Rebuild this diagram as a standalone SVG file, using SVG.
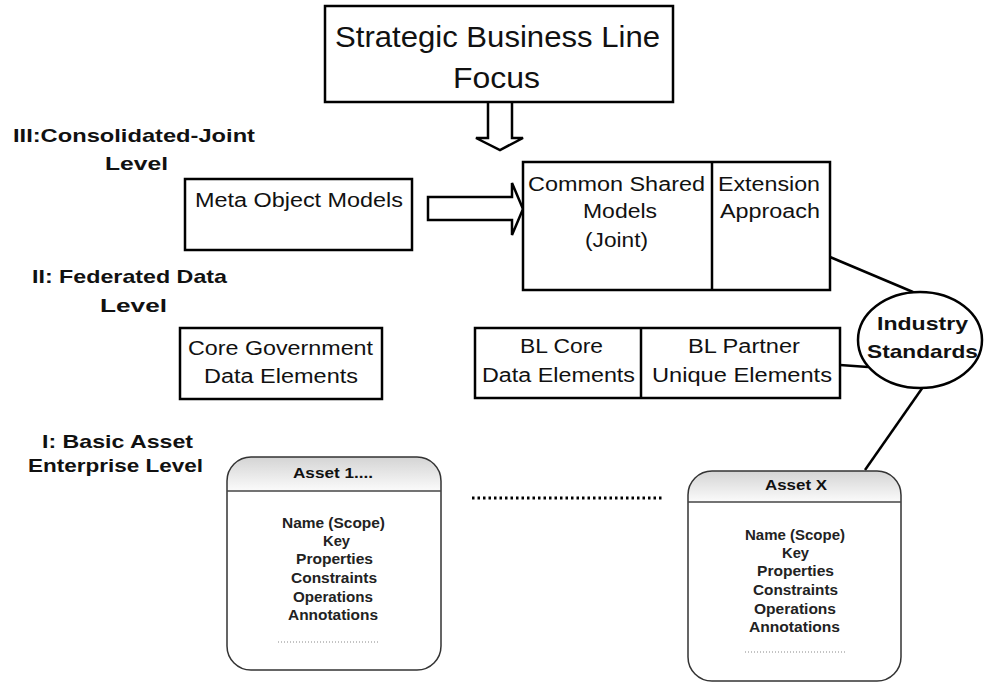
<svg xmlns="http://www.w3.org/2000/svg" width="985" height="683" viewBox="0 0 985 683">
<defs>
<linearGradient id="hdr" x1="0" y1="0" x2="0" y2="1">
<stop offset="0" stop-color="#d4d4d4"/>
<stop offset="1" stop-color="#fbfbfb"/>
</linearGradient>
<clipPath id="c1"><rect x="227" y="457" width="214" height="213" rx="24"/></clipPath>
<clipPath id="c2"><rect x="688" y="471" width="213" height="210" rx="24"/></clipPath>
</defs>
<style>
.box{fill:#fff;stroke:#000;stroke-width:2.5}
.t{font-family:"Liberation Sans",Arial,sans-serif;fill:#111}
.n{font-size:20px}
.b{font-weight:bold;font-size:19px}
.s{font-size:14px;font-weight:bold;fill:#222}
.h{font-size:15px;font-weight:bold}
.ln{stroke:#000;stroke-width:2.5;fill:none}
</style>
<rect width="985" height="683" fill="#fff"/>
<g id="labels">
<text class="t b" x="13" y="142" textLength="242" lengthAdjust="spacingAndGlyphs">III:Consolidated-Joint</text>
<text class="t b" x="105" y="170" textLength="63" lengthAdjust="spacingAndGlyphs">Level</text>
<text class="t b" x="32" y="283" textLength="195" lengthAdjust="spacingAndGlyphs">II: Federated Data</text>
<text class="t b" x="100" y="312" textLength="67" lengthAdjust="spacingAndGlyphs">Level</text>
<text class="t b" x="42" y="448" textLength="151" lengthAdjust="spacingAndGlyphs">I: Basic Asset</text>
<text class="t b" x="28" y="472" textLength="175" lengthAdjust="spacingAndGlyphs">Enterprise Level</text>
</g>
<g id="strategic">
<rect class="box" x="325" y="6" width="348" height="96"/>
<text class="t" font-size="29" x="335" y="47" textLength="325" lengthAdjust="spacingAndGlyphs">Strategic Business Line</text>
<text class="t" font-size="29" x="453" y="88" textLength="87" lengthAdjust="spacingAndGlyphs">Focus</text>
</g>
<g id="connectors">
<path class="ln" d="M488,102 V138 H476 L500,150 L523,138 H512 V102" fill="#fff"/>
<path class="ln" d="M428,197 H512 V183 L523,209 L512,235 V220 H428 Z" fill="#fff"/>
<line class="ln" x1="830" y1="257" x2="913" y2="292"/>
<line class="ln" x1="840" y1="365" x2="868" y2="367"/>
<line class="ln" x1="923" y1="387" x2="865" y2="470" stroke-width="2"/>
<line x1="472" y1="498" x2="662" y2="498" stroke="#000" stroke-width="3" stroke-dasharray="2.5,3"/>
</g>
<g id="meta">
<rect class="box" x="185" y="179" width="227" height="71"/>
<text class="t n" x="195" y="207" textLength="208" lengthAdjust="spacingAndGlyphs">Meta Object Models</text>
</g>
<g id="common">
<rect class="box" x="523" y="162" width="307" height="128"/>
<line class="ln" x1="712" y1="162" x2="712" y2="290"/>
<text class="t n" x="528" y="191" textLength="177" lengthAdjust="spacingAndGlyphs">Common Shared</text>
<text class="t n" x="583" y="218" textLength="74" lengthAdjust="spacingAndGlyphs">Models</text>
<text class="t n" x="585" y="247" textLength="63" lengthAdjust="spacingAndGlyphs">(Joint)</text>
<text class="t n" x="718" y="191" textLength="102" lengthAdjust="spacingAndGlyphs">Extension</text>
<text class="t n" x="720" y="218" textLength="100" lengthAdjust="spacingAndGlyphs">Approach</text>
</g>
<g id="coregov">
<rect class="box" x="180" y="328" width="202" height="71"/>
<text class="t n" x="188" y="355" textLength="185" lengthAdjust="spacingAndGlyphs">Core Government</text>
<text class="t n" x="204" y="383" textLength="154" lengthAdjust="spacingAndGlyphs">Data Elements</text>
</g>
<g id="bl">
<rect class="box" x="475" y="328" width="365" height="70"/>
<line class="ln" x1="641" y1="328" x2="641" y2="398"/>
<text class="t n" x="520" y="353" textLength="83" lengthAdjust="spacingAndGlyphs">BL Core</text>
<text class="t n" x="482" y="382" textLength="153" lengthAdjust="spacingAndGlyphs">Data Elements</text>
<text class="t n" x="688" y="353" textLength="112" lengthAdjust="spacingAndGlyphs">BL Partner</text>
<text class="t n" x="652" y="382" textLength="180" lengthAdjust="spacingAndGlyphs">Unique Elements</text>
</g>
<g id="industry">
<ellipse class="box" cx="920" cy="340" rx="62" ry="48"/>
<text class="t b" x="877" y="330" textLength="91" lengthAdjust="spacingAndGlyphs">Industry</text>
<text class="t b" x="867" y="358" textLength="111" lengthAdjust="spacingAndGlyphs">Standards</text>
</g>
<g id="asset1">
<rect x="227" y="457" width="214" height="213" rx="24" fill="#fff"/>
<rect x="227" y="457" width="214" height="34" fill="url(#hdr)" clip-path="url(#c1)"/>
<rect x="227" y="457" width="214" height="213" rx="24" fill="none" stroke="#333" stroke-width="1.5"/>
<line x1="227" y1="491" x2="441" y2="491" stroke="#444" stroke-width="1.5"/>
<text class="t h" x="293" y="478" textLength="80" lengthAdjust="spacingAndGlyphs">Asset 1....</text>
<text class="t s" x="282" y="528" textLength="103" lengthAdjust="spacingAndGlyphs">Name (Scope)</text>
<text class="t s" x="323" y="546" textLength="27" lengthAdjust="spacingAndGlyphs">Key</text>
<text class="t s" x="296" y="564" textLength="77" lengthAdjust="spacingAndGlyphs">Properties</text>
<text class="t s" x="291" y="583" textLength="86" lengthAdjust="spacingAndGlyphs">Constraints</text>
<text class="t s" x="293" y="602" textLength="80" lengthAdjust="spacingAndGlyphs">Operations</text>
<text class="t s" x="288" y="620" textLength="90" lengthAdjust="spacingAndGlyphs">Annotations</text>
<line x1="278" y1="642" x2="378" y2="642" stroke="#888" stroke-width="1" stroke-dasharray="1,2"/>
</g>
<g id="assetx">
<rect x="688" y="471" width="213" height="210" rx="24" fill="#fff"/>
<rect x="688" y="471" width="213" height="31" fill="url(#hdr)" clip-path="url(#c2)"/>
<rect x="688" y="471" width="213" height="210" rx="24" fill="none" stroke="#333" stroke-width="1.5"/>
<line x1="688" y1="502" x2="901" y2="502" stroke="#444" stroke-width="1.5"/>
<text class="t h" x="765" y="490" textLength="62" lengthAdjust="spacingAndGlyphs">Asset X</text>
<text class="t s" x="745" y="540" textLength="100" lengthAdjust="spacingAndGlyphs">Name (Scope)</text>
<text class="t s" x="782" y="558" textLength="27" lengthAdjust="spacingAndGlyphs">Key</text>
<text class="t s" x="757" y="576" textLength="77" lengthAdjust="spacingAndGlyphs">Properties</text>
<text class="t s" x="753" y="595" textLength="85" lengthAdjust="spacingAndGlyphs">Constraints</text>
<text class="t s" x="754" y="614" textLength="82" lengthAdjust="spacingAndGlyphs">Operations</text>
<text class="t s" x="749" y="632" textLength="91" lengthAdjust="spacingAndGlyphs">Annotations</text>
<line x1="745" y1="652" x2="845" y2="652" stroke="#888" stroke-width="1" stroke-dasharray="1,2"/>
</g>
</svg>
